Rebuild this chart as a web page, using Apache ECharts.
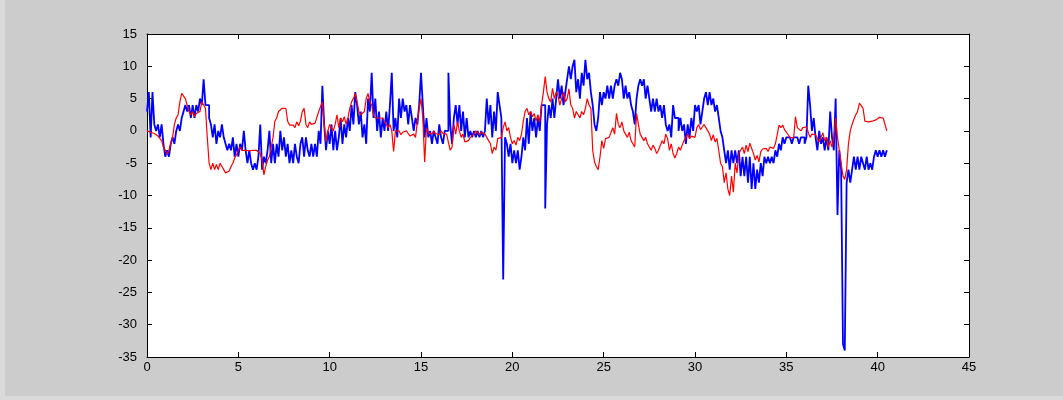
<!DOCTYPE html>
<html>
<head>
<meta charset="utf-8">
<script src="https://cdn.jsdelivr.net/npm/echarts@6/dist/echarts.min.js"></script>
<style>
  html, body { margin: 0; padding: 0; background: #cccccc; }
  #chart { width: 1063px; height: 400px; }
</style>
</head>
<body>
<div id="chart"></div>
<script>
// sample spacing along x (seconds)
const SAMPLE_DT = 0.1;

const X_TICKS = [0, 5, 10, 15, 20, 25, 30, 35, 40, 45];
const Y_TICKS = [-35, -30, -25, -20, -15, -10, -5, 0, 5, 10, 15];

// blue trace, one row per unit of x
const blueValues = [
  3, 6, -1, 6, 1, 0, 1, -1, 1, -2,
  -4, -3, -4, -2, -1, -2, 0, 1, 0, 2,
  3, 4, 3, 4, 2, 4, 2, 4, 3, 5,
  4, 8, 4, 4, 2, 1, -1, 1, -2, 0,
  -1, 1, -1, -2, -3, -2, -3, -1, -4, -2,
  -4, -2, -3, 0, -3, -5, -3, -5, -6, -5,
  -6, -4, 1, -6, -4, -5, -3, 0, -5, -2,
  -5, -2, -4, 0, -3, -1, -4, -2, -5, -3,
  -5, -2, -4, -5, -2, -1, -4, -1, -3, -4,
  -2, -4, -2, -4, 0, -2, 7, 1, -3, 0,
  -2, 1, -3, 0, -3, -1, 2, -2, 1, -1,
  2, 0, 4, 1, 6, 4, 1, 3, -1, 1,
  -2, 5, 3, 9, 2, 5, 0, 3, -1, 2,
  0, 3, 0, 4, 9, 0, 2, -1, 5, 2,
  5, 3, 4, 1, 4, 2, 0, 2, 1, 4,
  9, 4, -1, 2, -1, 0, -2, 0, -1, -2,
  1, -1, -2, 0, 0, 9, 1, -2, 2, 4,
  1, 4, 0, 3, -1, 2, -1, 0, -1, 0,
  -1, 0, -1, 0, -1, 0, 5, 1, 4, -1,
  3, 0, 6, 4, 2, -23, -1, -2, -4, -2,
  -5, -3, -5, -3, -6, -4, -1, -3, 2, -2,
  3, 0, 2, -1, 2, 0, 4, 4, -12, 1,
  4, 2, 5, 2, 5, 8, 5, 7, 4, 6,
  8, 10, 8, 10, 11, 6, 8, 5, 9, 7,
  11, 8, 9, 6, 4, 1, 0, 2, 6, 4,
  6, 5, 7, 5, 7, 5, 7, 8, 7, 9,
  8, 5, 7, 5, 6, 4, 3, 1, 5, 7,
  8, 7, 8, 5, 7, 5, 3, 5, 3, 5,
  3, 4, 2, 4, 1, 0, 1, -1, 4, 2,
  2, 0, 2, 0, 1, -2, 1, -1, 2, 0,
  4, 3, 4, 1, 3, 5, 6, 4, 6, 4,
  5, 3, 4, 2, 0, -1, -3, -5, -3, -6,
  -3, -5, -3, -5, -3, -7, -4, -7, -4, -8,
  -4, -9, -5, -9, -6, -8, -5, -7, -4, -5,
  -4, -5, -4, -5, -3, -4, -2, -3, -1, -2,
  -1, -1, -1, -2, -1, -1, -1, -2, -1, -1,
  -2, -1, 7, 4, 0, 2, -1, -3, 0, -2,
  -1, -3, -1, -3, 3, -1, -3, 5, -13, -3,
  -6, -33, -34, -8, -6, -8, -6, -4, -6, -4,
  -6, -4, -5, -6, -4, -6, -5, -6, -4, -3,
  -4, -3, -4, -3, -4, -3
];

// red trace, same sampling
const redValues = [
  0, 0, -0.2, -0.3, -0.4, -0.6, -0.8, -1, -1.5, -2.5,
  -3, -3.6, -3, -3.2, -1, 1, 2, 2.5, 4.5, 5.8,
  5.5, 5, 4, 3, 2.5, 3, 2.2, 2.7, 2.4, 3,
  4.5, 4, 3.5, -1, -5, -6, -5, -6, -5.2, -6,
  -5, -5.5, -6, -6.5, -6.8, -6.2, -5.5, -5, -4.2, -3.7,
  -3, -2.5, -3, -2.8, -3, -3, -3.1, -3, -3, -3.1,
  -3, -3.2, -3.5, -4.5, -6.8, -5.5, -4.5, -4, -3.8, -1,
  1.5, 2, 3, 3.3, 3.5, 3.7, 3.5, 1.5, 0.9, 1,
  0.9, 0.5, 1.4, 0.8, 1.5, 3, 3.5, 1, 0.5, 1.4,
  1, 0.8, 1.2, 1, 3, 3, 4.5, 1, -1.7, 0,
  1, 0.5, 0, 1, 2.5, 0.5, 2, 1.4, 2.2, 1,
  2, 3.5, 4.5, 5, 5.8, 4.5, 3, 2.5, 2.2, 3,
  5, 5.8, 4.5, 4, 2.5, 2, 2.2, 2, 1.8, 2,
  2, 1, 0.5, 1, 0, -3.2, 0, -0.3, 0, -0.6,
  -0.2, -0.5, 0, -0.4, -0.8, -1.1, -0.5, -1, 1.4, 3.5,
  5, 2, -4.8, 0.5, -0.3, 0, -0.5, 0, -0.4, -0.2,
  -0.6, 0, -0.4, -0.2, -0.5, -0.3, -3, -2.5, 1, -0.5,
  1.4, 0, -1, -0.5, -1.7, -2, -1.5, -1, -1, -0.5,
  0, -0.3, -0.6, -0.2, 0, -0.5, -0.3, -1.5, -2, -3.5,
  -2.5, -3, -1.2, -1.5, -1, 0.5, 1.4, 0, 0.5, -1,
  -2, -1.5, -2.2, -1, -1.5, -0.5, 1.5, 3, 3.5, 2.5,
  3, 2.2, 2.7, 1.5, 2.5, 1.4, 4, 6, 8.4, 6,
  5, 4.5, 6.6, 5, 6, 5.5, 4, 5, 6, 4.5,
  5, 6.5, 4, 3.5, 2, 3, 2.5, 2, 3, 2.5,
  3.5, 5, 4, 3.5, -3, -4.8, -5.5, -6, -4, -1.5,
  -2.7, -1.2, -1.5, -1, -1.2, 0.5, -0.5, 2.7, 1, 0.5,
  1.4, 0, -0.5, -1, -0.2, -1.5, -2, -2.5, 2.7, 1,
  -0.5, -0.8, -1.5, -1, -2, -2.5, -3, -2.2, -2.7, -3.5,
  -3, -2.8, -1.5, -2, -0.5, -1.2, -3, -2, -3.5, -4.2,
  -3.5, -2.5, -3, -2.2, -1.5, -1, -0.5, -1.2, -0.8, -0.6,
  -1, 0.5, 1, 0.2, 0.6, 1, 0.9, 0, -0.5, -1.5,
  -0.6, -1.7, -1.2, -3, -5, -5.5, -8, -6.5, -9, -10,
  -7, -9.5, -5, -6.5, -3.5, -3, -2.5, -3.5, -2.2, -3.2,
  -1.9, -2.2, -3.5, -4.5, -3.8, -4.8, -3.2, -2.8, -3, -2.7,
  -3.2, -2.5, -2.2, -2.7, -2, -0.6, 0.9, 0.5, 0.9, 0.2,
  0.4, -0.6, -1, -0.8, -1.1, 2.2, 0.5, 0.7, 0, 0.5,
  0.4, 0.6, 0.8, -1, -0.5, -0.2, -0.6, -1.2, -1.7, -1,
  -0.3, -1.5, -1, -2.5, -1.5, -2.5, -1, 2, -1, -3,
  -5, -7, -7.5, -6, -2, 0, 1, 1.8, 2.5, 3,
  4.3, 4, 3.5, 1.5, 1.3, 1.4, 1.5, 1.5, 1.6, 1.7,
  1.8, 2.1, 1.9, 2, 2, 0
];

const toPairs = vals => vals.map((v, i) => [+(i * SAMPLE_DT).toFixed(2), v]);

const chart = echarts.init(document.getElementById("chart"));

const labelFont = { color: "#000", fontFamily: "Liberation Sans, Arial, sans-serif", fontSize: 13 };
const lineStyle = { color: "#000", width: 1 };
const tickStyle = { show: true, inside: true, length: 5, lineStyle: { color: "#000", width: 1 } };

const xBase = {
  type: "value", min: X_TICKS[0], max: X_TICKS[X_TICKS.length - 1], interval: 5,
  axisLine: { show: true, onZero: false, lineStyle },
  axisTick: tickStyle,
  splitLine: { show: false }
};
const yBase = {
  type: "value", min: Y_TICKS[0], max: Y_TICKS[Y_TICKS.length - 1], interval: 5,
  axisLine: { show: true, onZero: false, lineStyle },
  axisTick: tickStyle,
  splitLine: { show: false }
};

chart.setOption({
  backgroundColor: "#cccccc",
  animation: false,
  // lighter figure edge on the left and bottom, like the window frame
  graphic: [
    { type: "rect", left: 0, top: 0, shape: { width: 5, height: 400 }, style: { fill: "#dadada" }, silent: true },
    { type: "rect", left: 0, bottom: 0, shape: { width: 1063, height: 4 }, style: { fill: "#dadada" }, silent: true }
  ],
  grid: { left: 147, right: 94, top: 34, bottom: 43, show: true, backgroundColor: "#ffffff", borderWidth: 0 },
  xAxis: [
    { ...xBase, position: "bottom", axisLabel: { ...labelFont, margin: 4 } },
    { ...xBase, position: "top", axisLabel: { show: false } }
  ],
  yAxis: [
    { ...yBase, position: "left", axisLabel: { ...labelFont, margin: 10 } },
    { ...yBase, position: "right", axisLabel: { show: false } }
  ],
  series: [
    {
      name: "blue",
      type: "line",
      data: toPairs(blueValues),
      showSymbol: false,
      step: "end",
      lineStyle: { color: "#0000ff", width: 1.8 },
      itemStyle: { color: "#0000ff" }
    },
    {
      name: "red",
      type: "line",
      data: toPairs(redValues),
      showSymbol: false,
      lineStyle: { color: "#ff0000", width: 1.2 },
      itemStyle: { color: "#ff0000" }
    }
  ]
});
</script>
</body>
</html>
